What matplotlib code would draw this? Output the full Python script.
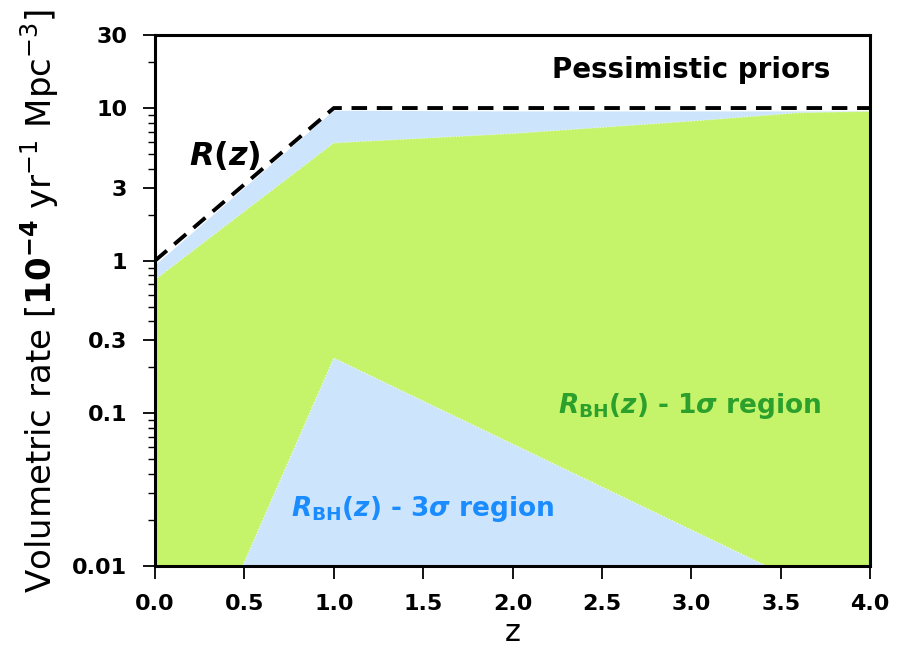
import matplotlib
matplotlib.use("Agg")
import matplotlib.pyplot as plt
from matplotlib.ticker import LogLocator, NullFormatter

# redshift grid and rate bounds
z_R = [0.0, 1.0, 4.0]
R_z = [1.0, 10.0, 10.0]

# 3 sigma band (lower edge is below the plotted range)
z_3s_up = [0.0, 1.0, 2.0, 3.0, 4.0]
up_3s = [0.93, 9.6, 9.5, 9.5, 9.5]
z_3s_lo = [0.0, 4.0]
lo_3s = [0.001, 0.001]

# 1 sigma band
z_1s_up = [0.0, 1.0, 2.0, 3.0, 3.6, 4.0]
up_1s = [0.75, 5.9, 6.8, 8.2, 9.3, 9.5]
z_1s_lo = [0.0, 0.49, 1.0, 3.42, 4.0]
lo_1s = [0.005, 0.01, 0.23, 0.01, 0.005]

yticks = [0.01, 0.1, 0.3, 1, 3, 10, 30]
yticklabels = ["0.01", "0.1", "0.3", "1", "3", "10", "30"]
xticks = [0.0, 0.5, 1.0, 1.5, 2.0, 2.5, 3.0, 3.5, 4.0]

fig = plt.figure(figsize=(9.12, 6.52), dpi=100)
ax = fig.add_axes([0.170, 0.132, 0.784, 0.814])

ax.fill(z_3s_up + z_3s_lo[::-1], up_3s + lo_3s[::-1], color="#cce5fc", lw=0)
ax.fill(z_1s_up + z_1s_lo[::-1], up_1s + lo_1s[::-1], color="#c5f36a", lw=0)
ax.plot(z_1s_lo, lo_1s, color="white", lw=0.8, ls=":", alpha=0.8)
ax.plot(z_1s_up, up_1s, color="white", lw=0.8, ls=":", alpha=0.6)
ax.plot(z_R, R_z, color="black", lw=2.8, ls=(0, (4, 2.5)))

ax.set_yscale("log")
ax.set_xlim(0, 4)
ax.set_ylim(0.01, 30)
ax.set_yticks(yticks)
ax.set_yticklabels(yticklabels)
ax.yaxis.set_minor_locator(LogLocator(base=10, subs=range(2, 10)))
ax.yaxis.set_minor_formatter(NullFormatter())
ax.set_xticks(xticks)
ax.set_xticklabels([f"{t:.1f}" for t in xticks])

for lab in ax.get_xticklabels() + ax.get_yticklabels():
    lab.set_fontweight("bold")
ax.tick_params(axis="both", which="major", labelsize=16, length=9, width=1.3, pad=11)
ax.tick_params(axis="y", which="minor", length=5, width=1.0)
for sp in ax.spines.values():
    sp.set_linewidth(2.2)

ax.set_xlabel("z", fontsize=22, labelpad=3)
ax.set_ylabel(r"Volumetric rate [$\mathbf{10^{-4}}$ yr$^{-1}$ Mpc$^{-3}$]", fontsize=24.5, labelpad=8)

ax.text(3.0, 17.8, "Pessimistic priors", fontsize=20, fontweight="bold",
        ha="center", va="center")
ax.text(0.19, 4.9, r"$\boldsymbol{R(z)}$", fontsize=23, ha="left", va="center")
ax.text(2.99, 0.112, r"$\boldsymbol{R}_{\mathbf{BH}}\boldsymbol{(z)}$ - 1$\boldsymbol{\sigma}$ region",
        fontsize=19, fontweight="bold", color="#2ca02c", ha="center", va="center")
ax.text(1.5, 0.0235, r"$\boldsymbol{R}_{\mathbf{BH}}\boldsymbol{(z)}$ - 3$\boldsymbol{\sigma}$ region",
        fontsize=19, fontweight="bold", color="#1a8cff", ha="center", va="center")

fig.savefig("out.png", dpi=100)
